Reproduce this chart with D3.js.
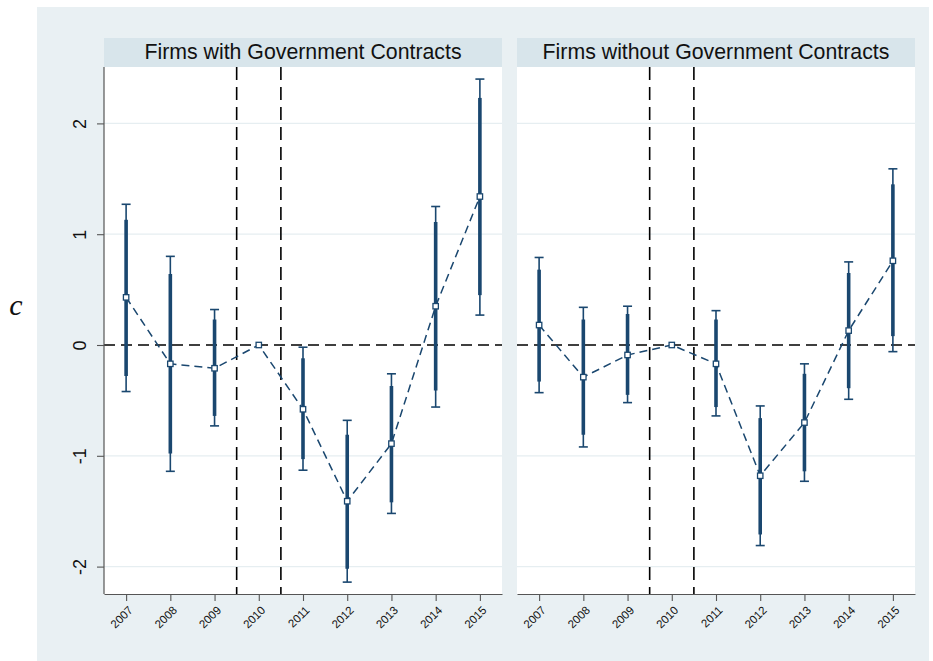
<!DOCTYPE html>
<html>
<head>
<meta charset="utf-8">
<script src="https://cdn.jsdelivr.net/npm/d3@7"></script>
<style>
  html, body { margin: 0; padding: 0; background: #ffffff; }
  svg { display: block; }
</style>
</head>
<body>
<svg id="chart" width="933" height="661"></svg>
<script>
// ---------------- DATA ----------------
const years = [2007, 2008, 2009, 2010, 2011, 2012, 2013, 2014, 2015];
const yTicks = [-2, -1, 0, 1, 2];
const panelTitles = ["Firms with Government Contracts", "Firms without Government Contracts"];
const yLabel = "c";
const eventLines = [2009.5, 2010.5];

// Firms with Government Contracts
const withCoef  = [0.43, -0.17, -0.21, 0, -0.58, -1.41, -0.89, 0.35, 1.34];
const withLo95  = [-0.42, -1.14, -0.73, 0, -1.13, -2.14, -1.52, -0.56, 0.27];
const withHi95  = [1.27, 0.80, 0.32, 0, -0.02, -0.68, -0.26, 1.25, 2.40];
const withLo90  = [-0.28, -0.98, -0.64, 0, -1.03, -2.02, -1.42, -0.41, 0.45];
const withHi90  = [1.13, 0.64, 0.23, 0, -0.12, -0.81, -0.37, 1.11, 2.23];

// Firms without Government Contracts
const withoutCoef = [0.18, -0.29, -0.09, 0, -0.17, -1.18, -0.70, 0.13, 0.76];
const withoutLo95 = [-0.43, -0.92, -0.52, 0, -0.64, -1.81, -1.23, -0.49, -0.06];
const withoutHi95 = [0.79, 0.34, 0.35, 0, 0.31, -0.55, -0.17, 0.75, 1.59];
const withoutLo90 = [-0.33, -0.81, -0.45, 0, -0.56, -1.71, -1.14, -0.39, 0.08];
const withoutHi90 = [0.68, 0.23, 0.28, 0, 0.23, -0.66, -0.26, 0.65, 1.45];

// ---------------- STYLE / LAYOUT ----------------
const navy = "#1a476f";
const outerBg = "#e9f0f3";
const stripBg = "#d8e5eb";
const gridCol = "#e6eef1";

const svg = d3.select("#chart");
svg.append("rect").attr("x", 0).attr("y", 0).attr("width", 933).attr("height", 661).attr("fill", "#ffffff");
svg.append("rect").attr("x", 37).attr("y", 7).attr("width", 892).attr("height", 654).attr("fill", outerBg);

const plotTop = 67, plotBottom = 594;
const stripTop = 38;
const panels = [
  { x0: 104, x1: 502, title: panelTitles[0], coef: withCoef, lo95: withLo95, hi95: withHi95, lo90: withLo90, hi90: withHi90, yAxis: true },
  { x0: 517, x1: 915, title: panelTitles[1], coef: withoutCoef, lo95: withoutLo95, hi95: withoutHi95, lo90: withoutLo90, hi90: withoutHi90, yAxis: false }
];

const y = d3.scaleLinear().domain([-2, 2]).range([566.6, 123.4]);

panels.forEach(p => {
  const x = d3.scaleLinear().domain([2006.5, 2015.5]).range([p.x0, p.x1]);
  const g = svg.append("g");

  // plot background
  g.append("rect").attr("x", p.x0).attr("y", plotTop).attr("width", p.x1 - p.x0).attr("height", plotBottom - plotTop).attr("fill", "#ffffff");

  // strip
  g.append("rect").attr("x", p.x0).attr("y", stripTop).attr("width", p.x1 - p.x0).attr("height", plotTop - stripTop).attr("fill", stripBg);
  g.append("text")
    .attr("x", (p.x0 + p.x1) / 2).attr("y", 58.5)
    .attr("text-anchor", "middle")
    .attr("font-family", "'Liberation Sans', Arial, sans-serif")
    .attr("font-size", "21.3px")
    .attr("fill", "#111")
    .text(p.title);

  // gridlines
  g.selectAll(".grid").data(yTicks.filter(t => t !== 0)).enter().append("line")
    .attr("x1", p.x0).attr("x2", p.x1)
    .attr("y1", d => y(d)).attr("y2", d => y(d))
    .attr("stroke", gridCol).attr("stroke-width", 1.2);

  // vertical event lines
  g.selectAll(".ev").data(eventLines).enter().append("line")
    .attr("x1", d => x(d)).attr("x2", d => x(d))
    .attr("y1", plotTop).attr("y2", plotBottom)
    .attr("stroke", "#000").attr("stroke-width", 1.6)
    .attr("stroke-dasharray", "13,7");

  // zero line
  g.append("line")
    .attr("x1", p.x0).attr("x2", p.x1)
    .attr("y1", y(0)).attr("y2", y(0))
    .attr("stroke", "#000").attr("stroke-width", 1.5)
    .attr("stroke-dasharray", "11,6");

  const idx = d3.range(years.length).filter(i => !(p.lo95[i] === 0 && p.hi95[i] === 0));

  // 95% CI thin bars with caps
  g.selectAll(".ci95").data(idx).enter().append("line")
    .attr("x1", i => x(years[i])).attr("x2", i => x(years[i]))
    .attr("y1", i => y(p.lo95[i])).attr("y2", i => y(p.hi95[i]))
    .attr("stroke", navy).attr("stroke-width", 1.6);
  ["lo95", "hi95"].forEach(k => {
    g.selectAll(".cap" + k).data(idx).enter().append("line")
      .attr("x1", i => x(years[i]) - 4.5).attr("x2", i => x(years[i]) + 4.5)
      .attr("y1", i => y(p[k][i])).attr("y2", i => y(p[k][i]))
      .attr("stroke", navy).attr("stroke-width", 1.6);
  });
  // 90% CI thick bars
  g.selectAll(".ci90").data(idx).enter().append("line")
    .attr("x1", i => x(years[i])).attr("x2", i => x(years[i]))
    .attr("y1", i => y(p.lo90[i])).attr("y2", i => y(p.hi90[i]))
    .attr("stroke", navy).attr("stroke-width", 3.6);

  // connecting dashed line
  const line = d3.line().x((d, i) => x(years[i])).y(d => y(d));
  g.append("path").datum(p.coef)
    .attr("d", line)
    .attr("fill", "none").attr("stroke", navy).attr("stroke-width", 1.5)
    .attr("stroke-dasharray", "8,5");

  // markers
  g.selectAll(".mk").data(p.coef).enter().append("rect")
    .attr("x", (d, i) => x(years[i]) - 2.7).attr("y", d => y(d) - 2.7)
    .attr("width", 5.4).attr("height", 5.4)
    .attr("fill", "#ffffff").attr("stroke", navy).attr("stroke-width", 1.3);

  // x axis
  const xAxis = d3.axisBottom(x).tickValues(years).tickFormat(d => String(d)).tickSize(7).tickSizeOuter(0);
  const xg = g.append("g").attr("transform", `translate(0,${plotBottom})`).call(xAxis);
  xg.select(".domain").attr("stroke", "#555").attr("stroke-width", 1.2);
  xg.selectAll(".tick line").attr("stroke", "#555").attr("stroke-width", 1.1);
  xg.selectAll(".tick text")
    .attr("font-family", "'Liberation Sans', Arial, sans-serif")
    .attr("font-size", "11.5px").attr("fill", "#111")
    .attr("text-anchor", "end")
    .attr("dy", "0.35em")
    .attr("transform", "translate(4,14) rotate(-45)")
    .attr("x", 0).attr("y", 0);

  if (p.yAxis) {
    const yAxis = d3.axisLeft(y).tickValues(yTicks).tickFormat(d => String(d)).tickSize(7).tickSizeOuter(0);
    const yg = g.append("g").attr("transform", `translate(${p.x0},0)`).call(yAxis);
    yg.select(".domain").attr("d", `M0,${plotTop}V${plotBottom}`).attr("stroke", "#555").attr("stroke-width", 1.2);
    yg.selectAll(".tick line").attr("stroke", "#555").attr("stroke-width", 1.1);
    yg.selectAll(".tick text")
      .attr("font-family", "'Liberation Sans', Arial, sans-serif")
      .attr("font-size", "18px").attr("fill", "#111")
      .attr("text-anchor", "middle")
      .attr("x", 0).attr("y", 0)
      .attr("transform", "translate(-24.5,0) rotate(-90)")
      .attr("dy", "0.35em");
  }
});

// y label
svg.append("text")
  .attr("x", 16).attr("y", 315)
  .attr("text-anchor", "middle")
  .attr("font-family", "'Liberation Serif', 'DejaVu Serif', serif")
  .attr("font-style", "italic")
  .attr("font-size", "30px")
  .attr("fill", "#111")
  .text(yLabel);
</script>
</body>
</html>
